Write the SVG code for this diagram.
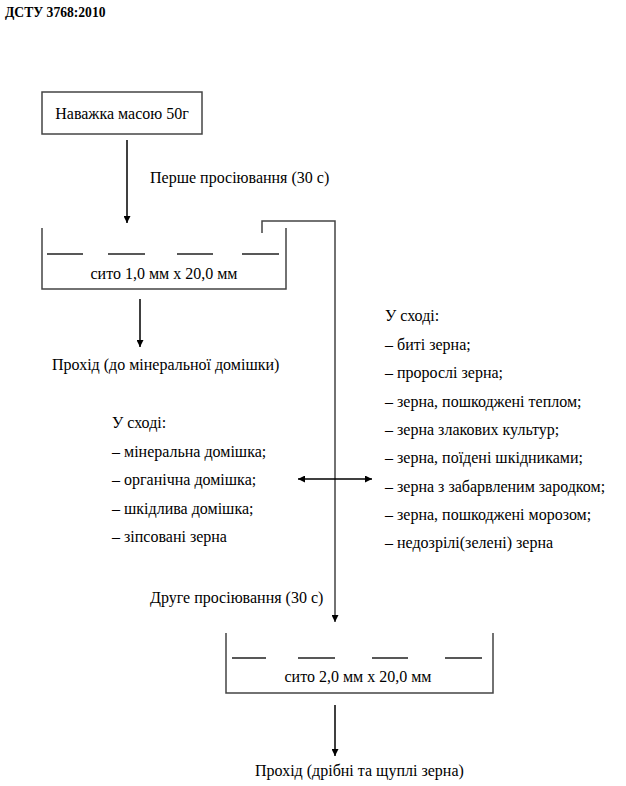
<svg xmlns="http://www.w3.org/2000/svg" width="626" height="786" viewBox="0 0 626 786">
<style>
text{font-family:"Liberation Serif","Times New Roman",serif;font-size:16px;fill:#000}
.t{font-weight:bold;font-size:13.6px}
.ln{fill:none;stroke:#444;stroke-width:1.5}
.ds{stroke:#222;stroke-width:1.5}
.ar{stroke:#000;stroke-width:1.5;fill:none}
</style>
<defs>
<marker id="ah" viewBox="0 0 10 10" refX="10" refY="5" markerWidth="7" markerHeight="7" orient="auto-start-reverse" markerUnits="userSpaceOnUse">
<path d="M0,0 L10,5 L0,10 z" fill="#000"/>
</marker>
</defs>
<rect width="626" height="786" fill="#fff"/>
<text class="t" x="5" y="17">ДСТУ 3768:2010</text>

<g id="sample">
<rect x="42" y="92" width="160" height="42" class="ln"/>
<text x="122" y="119" text-anchor="middle">Наважка масою 50г</text>
</g>

<g id="sieve1">
<path d="M42,228 V289 H286 V228" class="ln"/>
<path d="M47,254 H83 M108,254 H145 M177,254 H213 M242,254 H279" class="ds"/>
<text x="164" y="279" text-anchor="middle">сито 1,0 мм х 20,0 мм</text>
</g>

<g id="pass1">
<text x="52" y="370">Прохід (до мінеральної домішки)</text>
</g>

<g id="residue-left">
<text x="112" y="428">У сході:</text>
<text x="112" y="457">– мінеральна домішка;</text>
<text x="112" y="485">– органічна домішка;</text>
<text x="112" y="514">– шкідлива домішка;</text>
<text x="112" y="542">– зіпсовані зерна</text>
</g>

<g id="residue-right">
<text x="385" y="321">У сході:</text>
<text x="385" y="350">– биті зерна;</text>
<text x="385" y="378">– пророслі зерна;</text>
<text x="385" y="407">– зерна, пошкоджені теплом;</text>
<text x="385" y="435">– зерна злакових культур;</text>
<text x="385" y="463">– зерна, поїдені шкідниками;</text>
<text x="385" y="492">– зерна з забарвленим зародком;</text>
<text x="385" y="520">– зерна, пошкоджені морозом;</text>
<text x="385" y="548">– недозрілі(зелені) зерна</text>
</g>

<g id="sieve2">
<path d="M226,633 V693 H493 V633" class="ln"/>
<path d="M232,658 H266 M298,658 H335 M372,658 H408 M445,658 H482" class="ds"/>
<text x="358" y="682" text-anchor="middle">сито 2,0 мм х 20,0 мм</text>
</g>

<g id="pass2">
<text x="255" y="776">Прохід (дрібні та щуплі зерна)</text>
</g>

<g id="connectors">
<line x1="127" y1="140" x2="127" y2="223" class="ar" marker-end="url(#ah)"/>
<text x="150" y="183">Перше просіювання (30 с)</text>
<line x1="140" y1="299" x2="140" y2="347" class="ar" marker-end="url(#ah)"/>
<path d="M262,233 V221 H335 V622" class="ln" marker-end="url(#ah)"/>
<line x1="298" y1="479" x2="372" y2="479" class="ar" marker-start="url(#ah)" marker-end="url(#ah)"/>
<text x="150" y="603">Друге просіювання (30 с)</text>
<line x1="335" y1="705" x2="335" y2="756" class="ar" marker-end="url(#ah)"/>
</g>
</svg>
